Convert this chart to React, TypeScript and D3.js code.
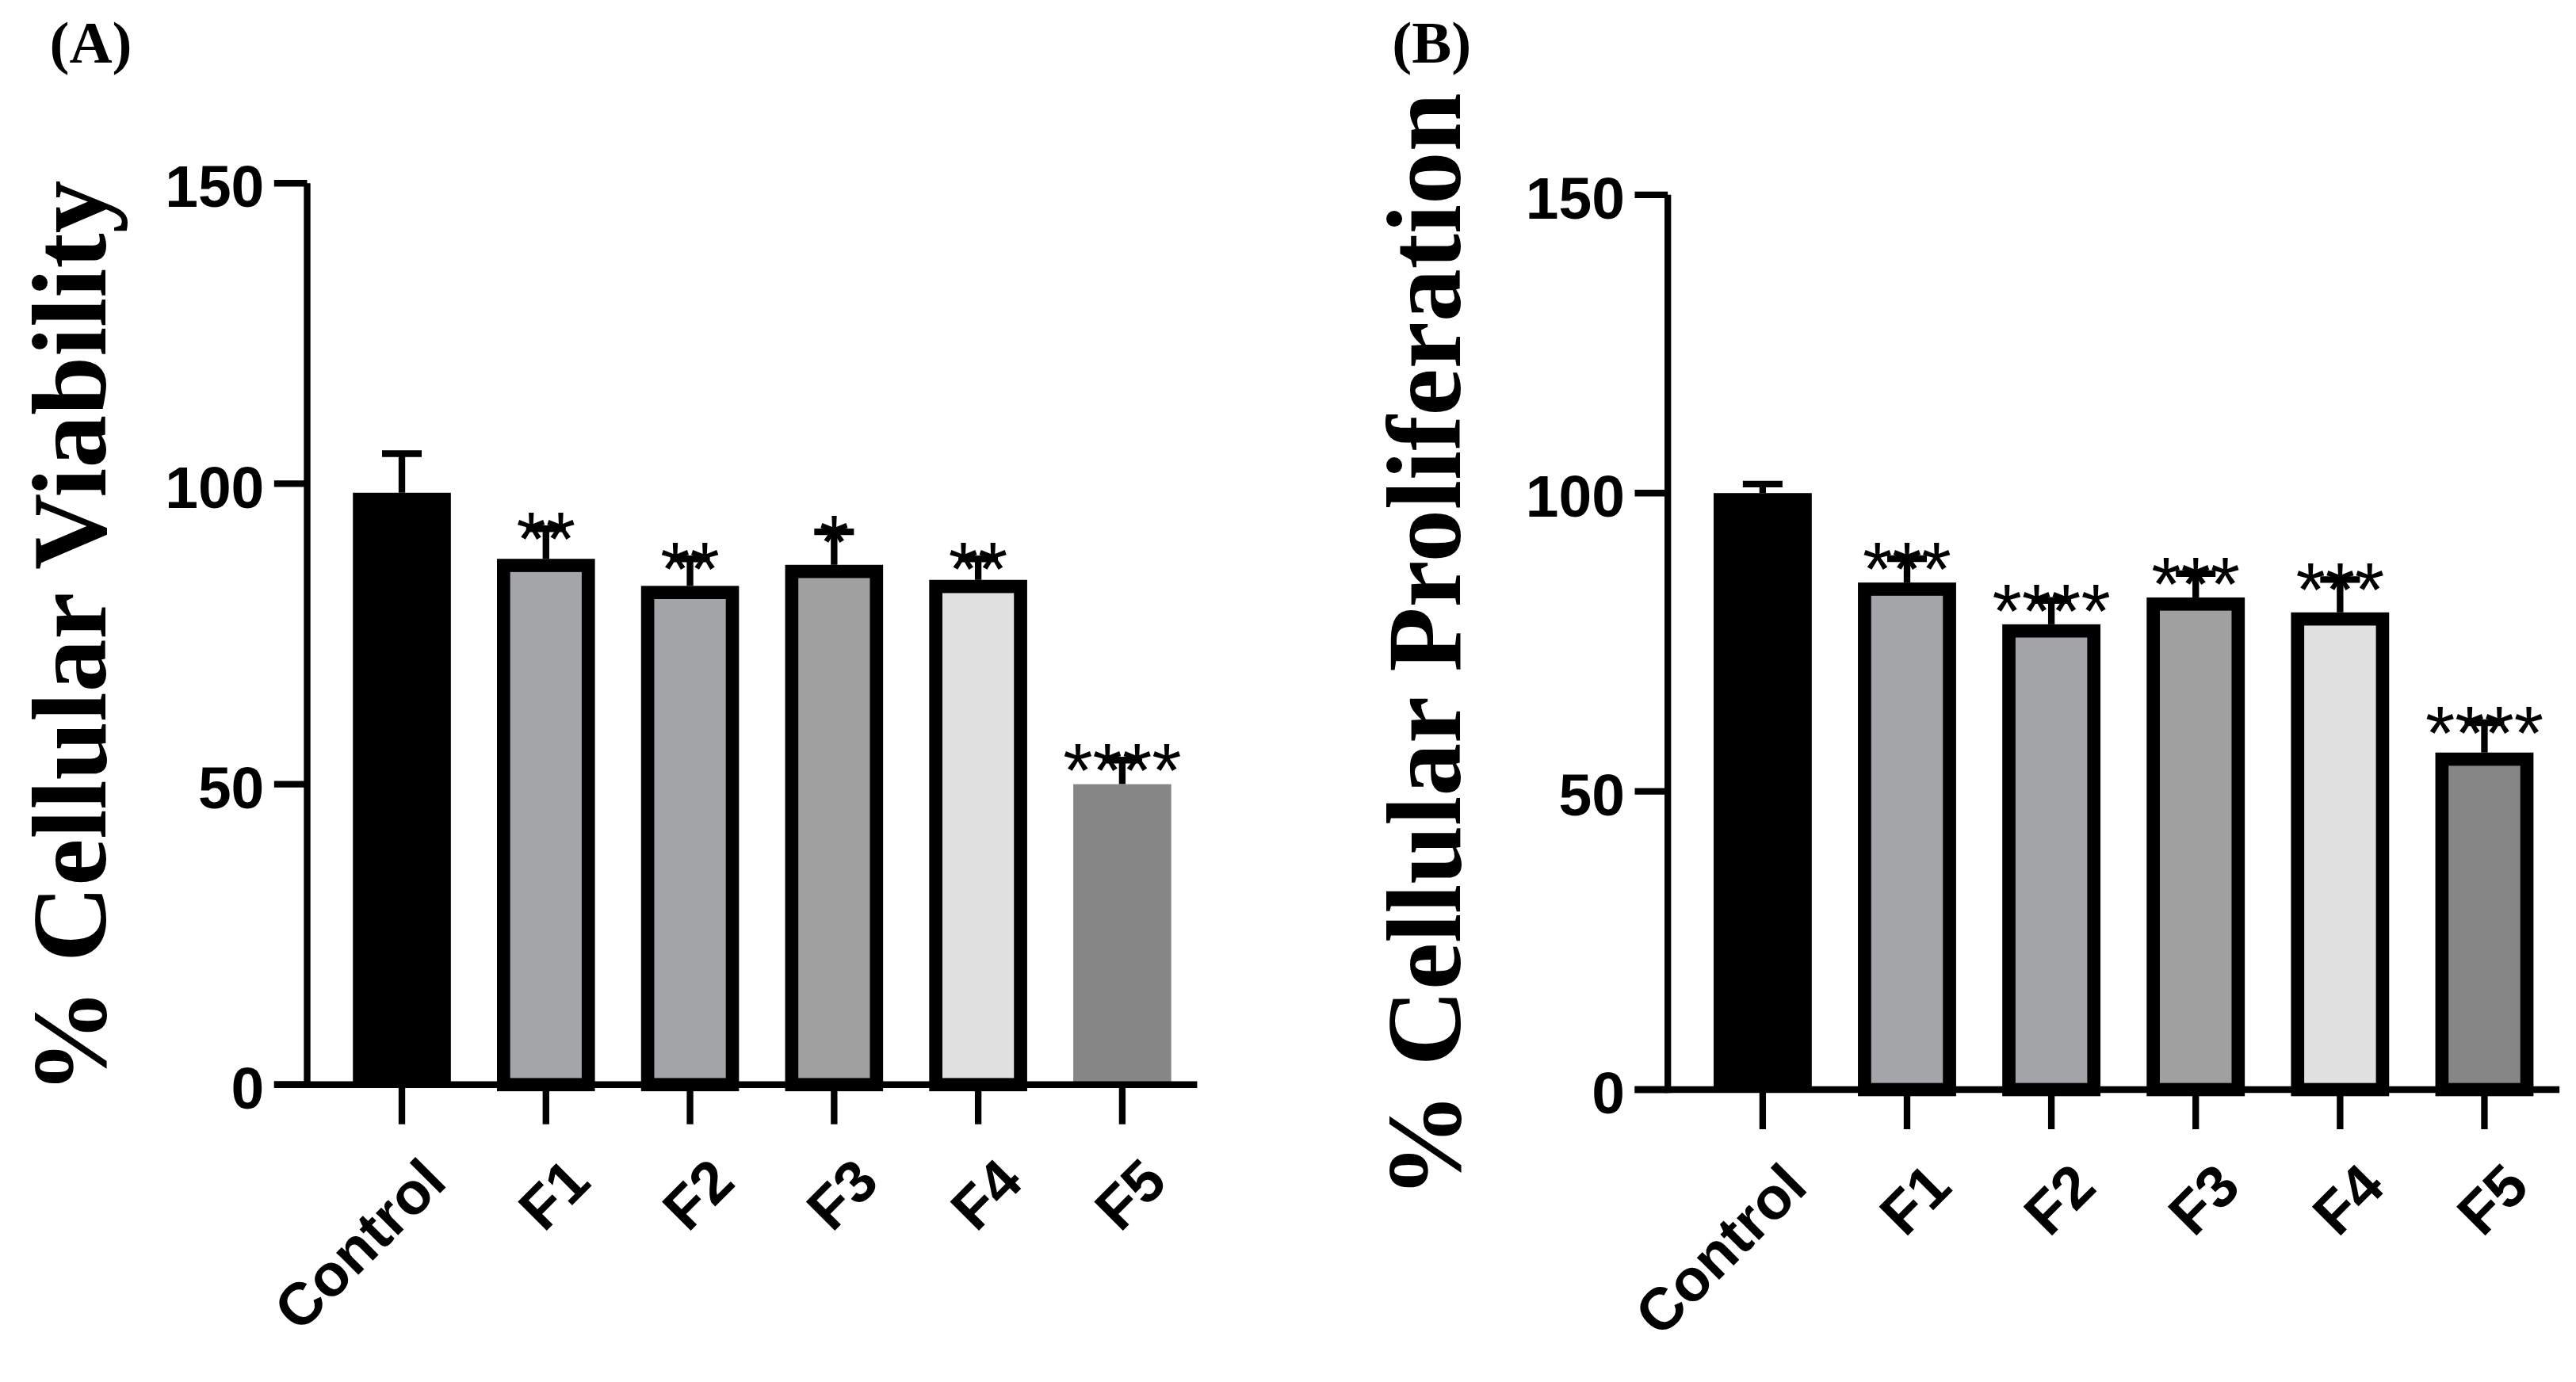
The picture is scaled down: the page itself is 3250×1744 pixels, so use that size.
import React from "react";
import * as d3 from "d3";

const categories = ["Control", "F1", "F2", "F3", "F4", "F5"];
const viabilityMeans = [98.5, 87.5, 83, 86.5, 84, 50];
const viabilityErrTop = [105, 92.5, 87.5, 92, 87.5, 54];
const viabilityStars = ["", "**", "**", "*", "**", "****"];
const prolifMeans = [100, 85, 78, 82.5, 80, 56.5];
const prolifErrTop = [101.5, 89, 82, 86.5, 85.5, 61.5];
const prolifStars = ["", "***", "****", "***", "***", "****"];
const fills = ["#000000", "#a4a5a9", "#a3a4a8", "#a0a0a0", "#e0e0e0", "#868686"];
const yTicks = [0, 50, 100, 150];

const S = 3250 / 1560;

function Panel({ x0, yTop, yBot, xEnd, means, errs, stars, title, label, labelX, titleX, f5Outline }: any) {
  const y = d3.scaleLinear().domain([0, 150]).range([yBot, yTop]);
  const x = d3.scaleBand().domain(categories).range([x0 + 12, xEnd]).paddingInner(0.32).paddingOuter(0.18);
  const bw = x.bandwidth();
  return (
    <g>
      <text x={labelX} y={38} fontFamily="Liberation Serif" fontWeight="bold" fontSize={36}>{label}</text>
      <text transform={`translate(${titleX},${(yTop + yBot) / 2 + 2}) rotate(-90)`} textAnchor="middle"
        fontFamily="Liberation Serif" fontWeight="bold" fontSize={64}>{title}</text>
      {categories.map((c, i) => {
        const cx = x(c)! + bw / 2;
        const outline = i > 0 && (i < 5 || f5Outline);
        const top = y(means[i]);
        return (
          <g key={c}>
            <line x1={cx} x2={cx} y1={y(errs[i])} y2={top} stroke="#000" strokeWidth={4} />
            <line x1={cx - 12} x2={cx + 12} y1={y(errs[i])} y2={y(errs[i])} stroke="#000" strokeWidth={4} />
            {outline ? (
              <rect x={x(c)! + 4} y={top + 4} width={bw - 8} height={yBot - top - 4} fill={fills[i]} stroke="#000" strokeWidth={8} />
            ) : (
              <rect x={x(c)!} y={top} width={bw} height={yBot - top} fill={fills[i]} />
            )}
            {stars[i] && (
              <text x={cx} y={y(errs[i]) + 22} textAnchor="middle" fontFamily="Liberation Sans" fontSize={46}>{stars[i]}</text>
            )}
            <line x1={cx} x2={cx} y1={yBot} y2={yBot + 24} stroke="#000" strokeWidth={4} />
            <text transform={`translate(${cx + 10},${yBot + 42}) rotate(-45)`} textAnchor="end" dominantBaseline="hanging"
              fontFamily="Liberation Sans" fontWeight="bold" fontSize={36}>{c}</text>
          </g>
        );
      })}
      <line x1={x0} x2={x0} y1={yTop} y2={yBot + 2} stroke="#000" strokeWidth={4} />
      <line x1={x0 - 20} x2={xEnd} y1={yBot} y2={yBot} stroke="#000" strokeWidth={4} />
      {yTicks.map((t) => (
        <g key={t}>
          <line x1={x0 - 20} x2={x0} y1={y(t)} y2={y(t)} stroke="#000" strokeWidth={4} />
          <text x={x0 - 26} y={y(t) + 2} textAnchor="end" dominantBaseline="central"
            fontFamily="Liberation Sans" fontWeight="bold" fontSize={36}>{t}</text>
        </g>
      ))}
    </g>
  );
}

export default function App() {
  return (
    <svg width={3250} height={1744} style={{ position: "absolute", left: 0, top: 0, background: "#fff" }}>
      <g transform={`scale(${S})`}>
        <Panel x0={186} yTop={111} yBot={657} xEnd={725} means={viabilityMeans} errs={viabilityErrTop}
          stars={viabilityStars} title="% Cellular Viability" label="(A)" labelX={30} titleX={64} f5Outline={false} />
        <Panel x0={1010} yTop={118} yBot={660} xEnd={1550} means={prolifMeans} errs={prolifErrTop}
          stars={prolifStars} title="% Cellular Proliferation" label="(B)" labelX={843} titleX={884} f5Outline={true} />
      </g>
    </svg>
  );
}
